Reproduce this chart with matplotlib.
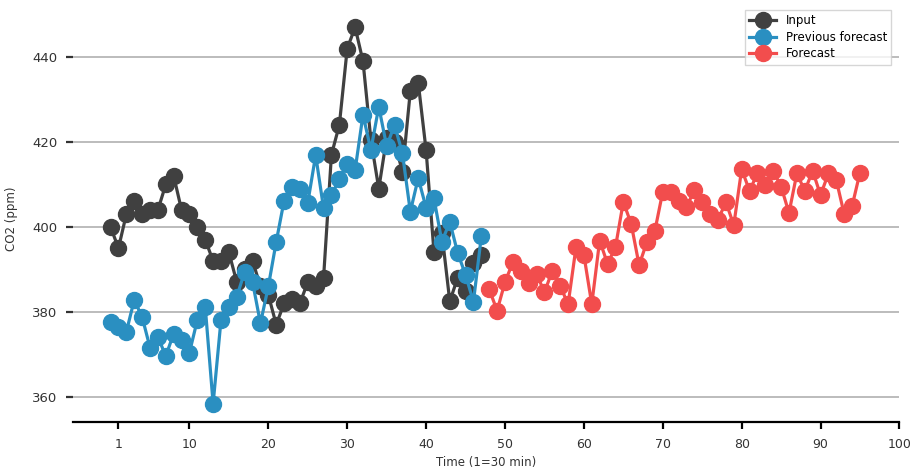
import matplotlib
matplotlib.use("Agg")
import matplotlib.pyplot as plt
import numpy as np

# ---------- data ----------
t_input = np.arange(0, 48)
t_forecast = np.arange(48, 96)

input_co2 = [400, 395, 403, 406, 403, 404, 404, 410, 412, 404,
             403, 400, 397, 392, 392, 394, 387, 390, 392, 386,
             384, 377, 382, 383, 382, 387, 386, 388, 417, 424,
             442, 447, 439, 420.5, 409, 421, 420, 413, 432, 434,
             418, 394, 398.5, 382.5, 388, 385, 391.5, 393.5]

prev_forecast = [377.7, 376.5, 375.3, 382.8, 378.8, 371.6, 374.1, 369.6, 374.9, 373.4,
                 370.4, 378.1, 381.2, 358.4, 378.1, 381.2, 383.6, 389.4, 387, 377.3,
                 386, 396.5, 406.2, 409.5, 408.9, 405.7, 416.9, 404.4, 407.5, 411.2,
                 414.8, 413.4, 426.4, 418.1, 428.3, 419, 424, 417.3, 403.6, 411.5,
                 404.5, 406.7, 396.5, 401.2, 393.9, 388.7, 382.4, 397.8]

forecast = [385.3, 380.3, 387, 391.7, 389.6, 386.8, 389, 384.6, 389.7, 386.1,
            381.8, 395.2, 393.4, 381.8, 396.8, 391.3, 395.2, 405.9, 400.7, 391,
            396.5, 399.1, 408.3, 408.3, 406.1, 404.6, 408.7, 405.9, 403, 401.6,
            405.9, 400.4, 413.6, 408.5, 412.6, 409.9, 413.2, 409.5, 403.3, 412.6,
            408.5, 413.2, 407.5, 412.6, 411, 403, 404.9, 412.8]

x_ticks = [1, 10, 20, 30, 40, 50, 60, 70, 80, 90, 100]
y_ticks = [360, 380, 400, 420, 440]

# ---------- plot ----------
fig = plt.figure(figsize=(9.11, 4.70), dpi=100)
ax = fig.add_axes([0.0798, 0.1015, 0.9075, 0.8675])

ax.plot(t_input, input_co2, "o-", color="#404040", lw=2.3, ms=11.5, label="Input")
ax.plot(t_input, prev_forecast, "o-", color="#2a8fc1", lw=2.3, ms=11.5,
        label="Previous forecast")
ax.plot(t_forecast, forecast, "o-", color="#f24d4d", lw=2.3, ms=11.5, label="Forecast")

ax.set_xlim(-4.8, 100)
ax.set_ylim(354, 450)
ax.set_xticks(x_ticks)
ax.set_yticks(y_ticks)
ax.grid(axis="y", color="#b0b0b0", lw=1.2, zorder=0)
ax.set_axisbelow(True)

for s in ("top", "right", "left"):
    ax.spines[s].set_visible(False)
ax.spines["bottom"].set_linewidth(1.6)
ax.spines["bottom"].set_color("black")

ax.tick_params(axis="y", length=5, width=1.6, colors="#333333", labelsize=9.5, pad=6)
ax.tick_params(axis="x", length=5, width=1.6, colors="black", labelcolor="#333333",
               labelsize=9, pad=6)

ax.set_xlabel("Time (1=30 min)", fontsize=8.5, color="#333333", labelpad=4)
ax.set_ylabel("CO2 (ppm)", fontsize=8.5, color="#333333", labelpad=10)

leg = ax.legend(loc="upper right", fontsize=8.5, frameon=True, fancybox=False,
                handlelength=2.3, borderpad=0.35, labelspacing=0.3,
                bbox_to_anchor=(0.997, 1.025))
leg.get_frame().set_edgecolor("#cccccc")

fig.savefig("out.png", dpi=100, facecolor="white")
